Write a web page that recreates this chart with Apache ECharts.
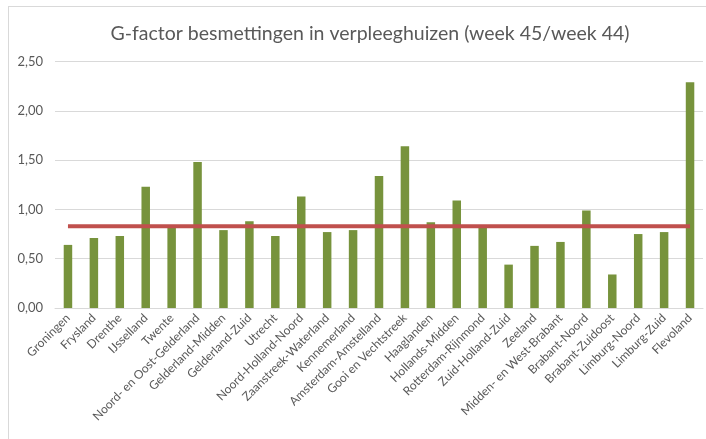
<!DOCTYPE html>
<html>
<head>
<meta charset="utf-8">
<script src="https://cdn.jsdelivr.net/npm/echarts@6/dist/echarts.min.js"></script>
<style>html,body{margin:0;padding:0;background:#fff;}#c{width:706px;height:439px;}</style>
</head>
<body>
<div id="c"></div>
<script>
const categories = ["Groningen","Frysland","Drenthe","IJsselland","Twente","Noord- en Oost-Gelderland","Gelderland-Midden","Gelderland-Zuid","Utrecht","Noord-Holland-Noord","Zaanstreek-Waterland","Kennemerland","Amsterdam-Amstelland","Gooi en Vechtstreek","Haaglanden","Hollands-Midden","Rotterdam-Rijnmond","Zuid-Holland-Zuid","Zeeland","Midden- en West-Brabant","Brabant-Noord","Brabant-Zuidoost","Limburg-Noord","Limburg-Zuid","Flevoland"];
const gFactor = [0.64,0.71,0.73,1.23,0.82,1.48,0.79,0.88,0.73,1.13,0.77,0.79,1.34,1.64,0.87,1.09,0.82,0.44,0.63,0.67,0.99,0.34,0.75,0.77,2.29];
const referenceValue = 0.83;
const referenceLine = categories.map(() => referenceValue);
const yTicks = [0, 0.5, 1, 1.5, 2, 2.5];

const font = 'Lato, "Open Sans", sans-serif';
const chart = echarts.init(document.getElementById('c'), null, {renderer: 'canvas'});
chart.setOption({
  animation: false,
  backgroundColor: '#ffffff',
  title: {
    text: 'G-factor besmettingen in verpleeghuizen (week 45/week 44)',
    left: 365, top: 19, textAlign: 'center',
    textStyle: {fontFamily: font, fontSize: 19.5, fontWeight: 'normal', color: '#595959'}
  },
  graphic: [
    {type: 'line', shape: {x1: 8, y1: 6.5, x2: 706, y2: 6.5}, style: {stroke: '#d9d9d9', lineWidth: 1}, silent: true},
    {type: 'line', shape: {x1: 8.5, y1: 6, x2: 8.5, y2: 439}, style: {stroke: '#d9d9d9', lineWidth: 1}, silent: true}
  ],
  grid: {left: 55, right: 3, top: 61.5, bottom: 131, containLabel: false},
  xAxis: {
    type: 'category', data: categories,
    axisLine: {lineStyle: {color: '#d9d9d9', width: 1}},
    axisTick: {show: false},
    axisLabel: {rotate: 45, interval: 0, fontFamily: font, fontSize: 12, color: '#595959', margin: 8}
  },
  yAxis: {
    type: 'value', min: yTicks[0], max: yTicks[yTicks.length-1], interval: 0.5,
    axisLine: {show: false}, axisTick: {show: false},
    splitLine: {lineStyle: {color: '#d9d9d9', width: 1}},
    axisLabel: {fontFamily: font, fontSize: 13, color: '#595959', margin: 12,
      formatter: v => v.toFixed(2).replace('.', ',')}
  },
  series: [
    {type: 'bar', data: gFactor, barWidth: 8.5, itemStyle: {color: '#77933c'}, z: 2},
    {type: 'line', data: referenceLine, symbol: 'none', lineStyle: {color: '#c0504d', width: 4}, z: 3}
  ]
});
</script>
</body>
</html>
